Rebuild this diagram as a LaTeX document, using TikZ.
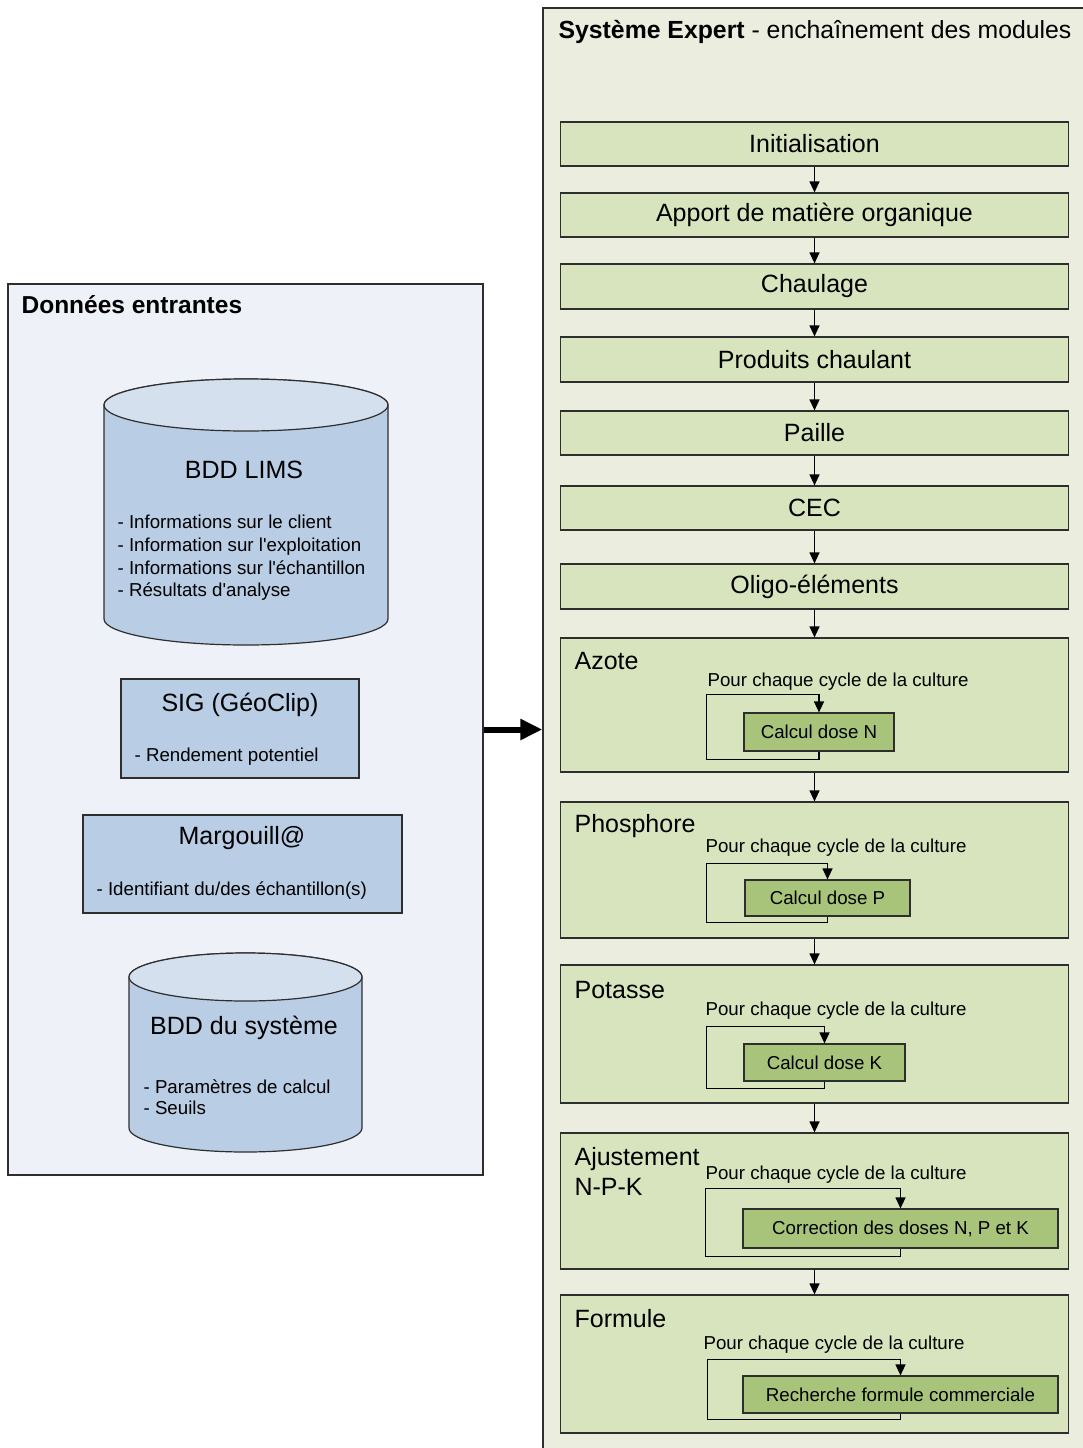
\documentclass[tikz,border=0pt]{standalone}
\usepackage{fontspec}
\setmainfont{Liberation Sans}
\usetikzlibrary{arrows.meta}
\definecolor{panelgreen}{HTML}{EBEEDE}
\definecolor{modgreen}{HTML}{D7E4BD}
\definecolor{calcgreen}{HTML}{A8C47A}
\definecolor{panelblue}{HTML}{EEF1F7}
\definecolor{dbblue}{HTML}{B9CDE5}
\definecolor{dbtop}{HTML}{D5E0EE}
\definecolor{edge}{HTML}{2E2E2E}
\tikzset{
  panel/.style={draw=edge, line width=1.4pt, inner sep=0pt},
  module/.style={draw=edge, line width=1.2pt, fill=modgreen, minimum width=508pt, inner sep=0pt, font=\fontsize{25}{29}\selectfont},
  calcbox/.style={draw=edge, line width=1.2pt, fill=calcgreen, inner sep=0pt, font=\fontsize{18.7}{22}\selectfont},
  modtitle/.style={anchor=west, inner sep=0pt, align=left, font=\fontsize{25}{30}\selectfont},
  looptext/.style={anchor=west, inner sep=0pt, font=\fontsize{18.7}{22}\selectfont},
  srcbox/.style={draw=edge, line width=1.2pt, fill=dbblue, inner sep=0pt},
  srctitle/.style={inner sep=0pt, font=\fontsize{25}{29}\selectfont},
  srclist/.style={anchor=west, inner sep=0pt, align=left, font=\fontsize{18.7}{22.7}\selectfont},
  bigarrow/.style={line width=6pt, -{Triangle[length=22pt,width=20pt]}}
}
\begin{document}
\begin{tikzpicture}[x=1pt,y=1pt,line width=1.2pt,>={Triangle[length=11pt,width=10pt]}]
\useasboundingbox (0,0) rectangle (1082,-1448);
\fill[white] (0,0) rectangle (1082,-1448);
% panels
\node[panel, fill=panelblue, minimum width=475pt, minimum height=891pt] (donnees) at (245.5,-729.5) {};
\node[panel, fill=panelgreen, minimum width=547pt, minimum height=1448pt] (systeme) at (816.5,-732) {};
\node[anchor=west, inner sep=0pt, font=\fontsize{24.5}{28}\selectfont\bfseries] (donneestitre) at (21,-305) {Données entrantes};
\node[anchor=west, inner sep=0pt, font=\fontsize{24.8}{28}\selectfont] (systemetitre) at (558,-32) {\textbf{Système Expert} - enchaînement des modules};
\draw[bigarrow] (donnees.east) -- (donnees.east -| systeme.west);

% BDD LIMS
\filldraw[draw=edge, fill=dbblue] (104,-405) -- (104,-619) arc (180:360:142pt and 26pt) -- (388,-405) arc (0:180:142pt and 26pt) -- cycle;
\filldraw[draw=edge, fill=dbtop] (246,-405) ellipse (142pt and 26pt);
\node[srctitle] (lims) at (244,-470) {BDD LIMS};
\node[srclist] (limsliste) at (117,-558) {- Informations sur le client\\- Information sur l\textquotesingle exploitation\\- Informations sur l\textquotesingle échantillon\\- Résultats d\textquotesingle analyse};

% SIG et Margouill@
\node[srcbox, minimum width=238pt, minimum height=99pt] (sig) at (240,-728.5) {};
\node[srctitle] (sigtitre) at (240,-705) {SIG (GéoClip)};
\node[srclist] (sigliste) at (134,-757) {- Rendement potentiel};
\node[srcbox, minimum width=319pt, minimum height=98pt] (margouilla) at (242.5,-864) {};
\node[srctitle] (margouillatitre) at (242,-838) {Margouill@};
\node[srclist] (margouillaliste) at (96,-891) {- Identifiant du/des échantillon(s)};

% BDD du systeme
\filldraw[draw=edge, fill=dbblue] (129,-977) -- (129,-1128) arc (180:360:116.5pt and 24pt) -- (362,-977) arc (0:180:116.5pt and 24pt) -- cycle;
\filldraw[draw=edge, fill=dbtop] (245.5,-977) ellipse (116.5pt and 24pt);
\node[srctitle] (bddsys) at (244,-1028) {BDD du système};
\node[srclist, font=\fontsize{18.7}{21}\selectfont] (bddsysliste) at (143,-1097) {- Paramètres de calcul\\- Seuils};

% modules simples
\node[module, minimum height=44pt] (init) at (814.5,-144) {Initialisation};
\node[module, minimum height=44pt] (apport) at (814.5,-215) {Apport de matière organique};
\node[module, minimum height=45pt] (chaulage) at (814.5,-286.5) {Chaulage};
\node[module, minimum height=45pt] (produits) at (814.5,-359.5) {Produits chaulant};
\node[module, minimum height=44pt] (paille) at (814.5,-433) {Paille};
\node[module, minimum height=44pt] (cec) at (814.5,-508) {CEC};
\node[module, minimum height=45pt] (oligo) at (814.5,-586.5) {Oligo-éléments};

% modules avec boucle
\node[module, minimum height=134pt] (azote) at (814.5,-705) {};
\node[module, minimum height=136pt] (phosphore) at (814.5,-870) {};
\node[module, minimum height=138pt] (potasse) at (814.5,-1034) {};
\node[module, minimum height=136pt] (ajust) at (814.5,-1201) {};
\node[module, minimum height=138pt] (formule) at (814.5,-1364) {};

\node[modtitle] (azotelbl) at (574,-661) {Azote};
\node[modtitle] (phosphorelbl) at (574,-826) {Phosphore};
\node[modtitle] (potasselbl) at (574,-990) {Potasse};
\node[modtitle] (ajustlbl) at (574,-1171) {Ajustement\\N-P-K};
\node[modtitle] (formulelbl) at (574,-1319) {Formule};

\node[looptext] (azotepour) at (707,-682) {Pour chaque cycle de la culture};
\node[looptext] (phosphorepour) at (705,-848) {Pour chaque cycle de la culture};
\node[looptext] (potassepour) at (705,-1011) {Pour chaque cycle de la culture};
\node[looptext] (ajustpour) at (705,-1175) {Pour chaque cycle de la culture};
\node[looptext] (formulepour) at (703,-1345) {Pour chaque cycle de la culture};

\node[calcbox, minimum width=150pt, minimum height=38pt] (calcN) at (819,-732) {Calcul dose N};
\node[calcbox, minimum width=165pt, minimum height=36pt] (calcP) at (827.5,-898) {Calcul dose P};
\node[calcbox, minimum width=161pt, minimum height=37pt] (calcK) at (824.5,-1062.5) {Calcul dose K};
\node[calcbox, minimum width=315pt, minimum height=39pt] (correction) at (900.5,-1228.5) {Correction des doses N, P et K};
\node[calcbox, minimum width=315pt, minimum height=37pt] (recherche) at (900.5,-1394.5) {Recherche formule commerciale};

% boucles
\draw[->] (calcN.south) -- ++(0,-8) -| ([xshift=-37pt,yshift=18pt]calcN.north west) -- ([yshift=18pt]calcN.north) -- (calcN.north);
\draw[->] (calcP.south) -- ++(0,-6) -| ([xshift=-38pt,yshift=16pt]calcP.north west) -- ([yshift=16pt]calcP.north) -- (calcP.north);
\draw[->] (calcK.south) -- ++(0,-7) -| ([xshift=-37pt,yshift=17pt]calcK.north west) -- ([yshift=17pt]calcK.north) -- (calcK.north);
\draw[->] (correction.south) -- ++(0,-8) -| ([xshift=-37pt,yshift=20pt]correction.north west) -- ([yshift=20pt]correction.north) -- (correction.north);
\draw[->] (recherche.south) -- ++(0,-6) -| ([xshift=-35pt,yshift=16pt]recherche.north west) -- ([yshift=16pt]recherche.north) -- (recherche.north);

% enchainement
\draw[->] (init) -- (apport);
\draw[->] (apport) -- (chaulage);
\draw[->] (chaulage) -- (produits);
\draw[->] (produits) -- (paille);
\draw[->] (paille) -- (cec);
\draw[->] (cec) -- (oligo);
\draw[->] (oligo) -- (azote);
\draw[->] (azote) -- (phosphore);
\draw[->] (phosphore) -- (potasse);
\draw[->] (potasse) -- (ajust);
\draw[->] (ajust) -- (formule);
\end{tikzpicture}
\end{document}
